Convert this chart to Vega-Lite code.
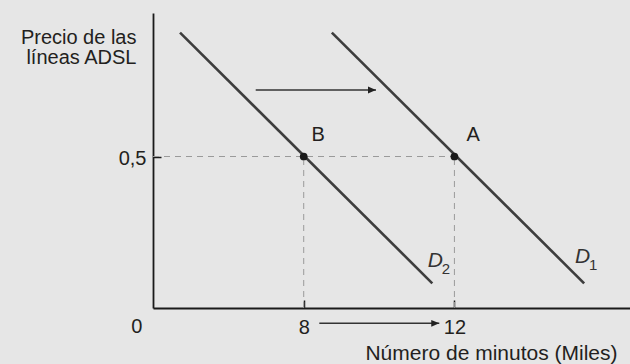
{
  "$schema": "https://vega.github.io/schema/vega-lite/v6.json",
  "width": 477,
  "height": 295,
  "autosize": {"type": "none"},
  "padding": {"left": 153, "top": 13, "right": 0, "bottom": 56},
  "background": "#e6e6e6",
  "config": {
    "view": {"stroke": null},
    "font": "Liberation Sans",
    "axis": {
      "grid": false,
      "domainColor": "#1a1a1a",
      "domainWidth": 1.8,
      "tickColor": "#1a1a1a",
      "tickWidth": 1.5,
      "labelColor": "#231f20",
      "titleColor": "#231f20",
      "labelFont": "Liberation Sans",
      "titleFont": "Liberation Sans",
      "titleFontWeight": "normal"
    }
  },
  "datasets": {
    "curves": [
      {"curve": "D2", "x": 4.717, "y": 0.9086},
      {"curve": "D2", "x": 11.413, "y": 0.0815},
      {"curve": "D1", "x": 8.747, "y": 0.9086},
      {"curve": "D1", "x": 15.443, "y": 0.0815}
    ],
    "guides": [
      {"x": 4, "y": 0.5, "x2": 12, "y2": 0.5},
      {"x": 8, "y": 0, "x2": 8, "y2": 0.5},
      {"x": 12, "y": 0, "x2": 12, "y2": 0.5}
    ],
    "arrows": [
      {"x": 6.726, "y": 0.7195, "x2": 9.918, "y2": 0.7195},
      {"x": 8.414, "y": -0.0505, "x2": 11.598, "y2": -0.0505}
    ],
    "points": [
      {"label": "B", "x": 8, "y": 0.5},
      {"label": "A", "x": 12, "y": 0.5}
    ],
    "pointLabels": [
      {"label": "B", "x": 8.387, "y": 0.552},
      {"label": "A", "x": 12.5, "y": 0.552}
    ],
    "curveLabels": [
      {"main": "D", "sub": "2", "x": 11.29, "y": 0.1363},
      {"main": "D", "sub": "1", "x": 15.2, "y": 0.1475}
    ],
    "origin": [
      {"t": "0", "x": 4, "y": 0}
    ]
  },
  "encoding": {
    "x": {
      "field": "x",
      "type": "quantitative",
      "scale": {"domain": [4, 16.66], "nice": false, "zero": false},
      "axis": {
        "values": [8, 12],
        "tickSize": -8,
        "labelFontSize": 20,
        "labelPadding": 33,
        "labelBaseline": "alphabetic",
        "labelFlush": false,
        "title": "Número de minutos (Miles)",
        "titleFontSize": 21,
        "titleX": 464,
        "titleY": 51,
        "titleAlign": "right",
        "titleBaseline": "alphabetic"
      }
    },
    "y": {
      "field": "y",
      "type": "quantitative",
      "scale": {"domain": [0, 0.9736], "nice": false, "zero": false},
      "axis": {
        "values": [0.5],
        "tickSize": -8,
        "labelFontSize": 20,
        "labelPadding": 15,
        "labelOffset": 1.5,
        "labelExpr": "replace(format(datum.value, '.1f'), '.', ',')",
        "title": ["Precio de las", "líneas ADSL"],
        "titleFontSize": 20,
        "titleLineHeight": 20.5,
        "titleAngle": 0,
        "titleX": -17,
        "titleY": 30,
        "titleAlign": "right",
        "titleBaseline": "alphabetic"
      }
    }
  },
  "layer": [
    {
      "data": {"name": "guides"},
      "mark": {"type": "rule", "color": "#9a9a9a", "strokeWidth": 1, "strokeDash": [6, 5]},
      "encoding": {
        "x2": {"field": "x2"},
        "y2": {"field": "y2"}
      }
    },
    {
      "data": {"name": "curves"},
      "mark": {"type": "line", "color": "#3d3d3d", "strokeWidth": 2.6},
      "encoding": {
        "detail": {"field": "curve", "type": "nominal"}
      }
    },
    {
      "data": {"name": "arrows"},
      "mark": {"type": "rule", "color": "#333333", "strokeWidth": 1.5},
      "encoding": {
        "x2": {"field": "x2"},
        "y2": {"field": "y2"}
      }
    },
    {
      "data": {"name": "arrows"},
      "mark": {"type": "point", "filled": true, "opacity": 1, "color": "#222222", "size": 64, "shape": "M-2,-0.85L0,0L-2,0.85Z"},
      "encoding": {
        "x": {"field": "x2", "type": "quantitative"},
        "y": {"field": "y2", "type": "quantitative"}
      }
    },
    {
      "data": {"name": "points"},
      "mark": {"type": "circle", "color": "#1a1a1a", "opacity": 1, "size": 60}
    },
    {
      "data": {"name": "pointLabels"},
      "mark": {"type": "text", "fontSize": 20, "color": "#231f20", "align": "center", "baseline": "alphabetic"},
      "encoding": {"text": {"field": "label"}}
    },
    {
      "data": {"name": "curveLabels"},
      "mark": {"type": "text", "fontSize": 21, "fontStyle": "italic", "color": "#333333", "align": "left", "baseline": "alphabetic"},
      "encoding": {"text": {"field": "main"}}
    },
    {
      "data": {"name": "curveLabels"},
      "mark": {"type": "text", "fontSize": 15, "color": "#333333", "align": "left", "baseline": "alphabetic", "dx": 14, "dy": 7},
      "encoding": {"text": {"field": "sub"}}
    },
    {
      "data": {"name": "origin"},
      "mark": {"type": "text", "fontSize": 20, "color": "#231f20", "align": "center", "baseline": "alphabetic", "dx": -16.3, "dy": 25},
      "encoding": {"text": {"field": "t"}}
    }
  ]
}
